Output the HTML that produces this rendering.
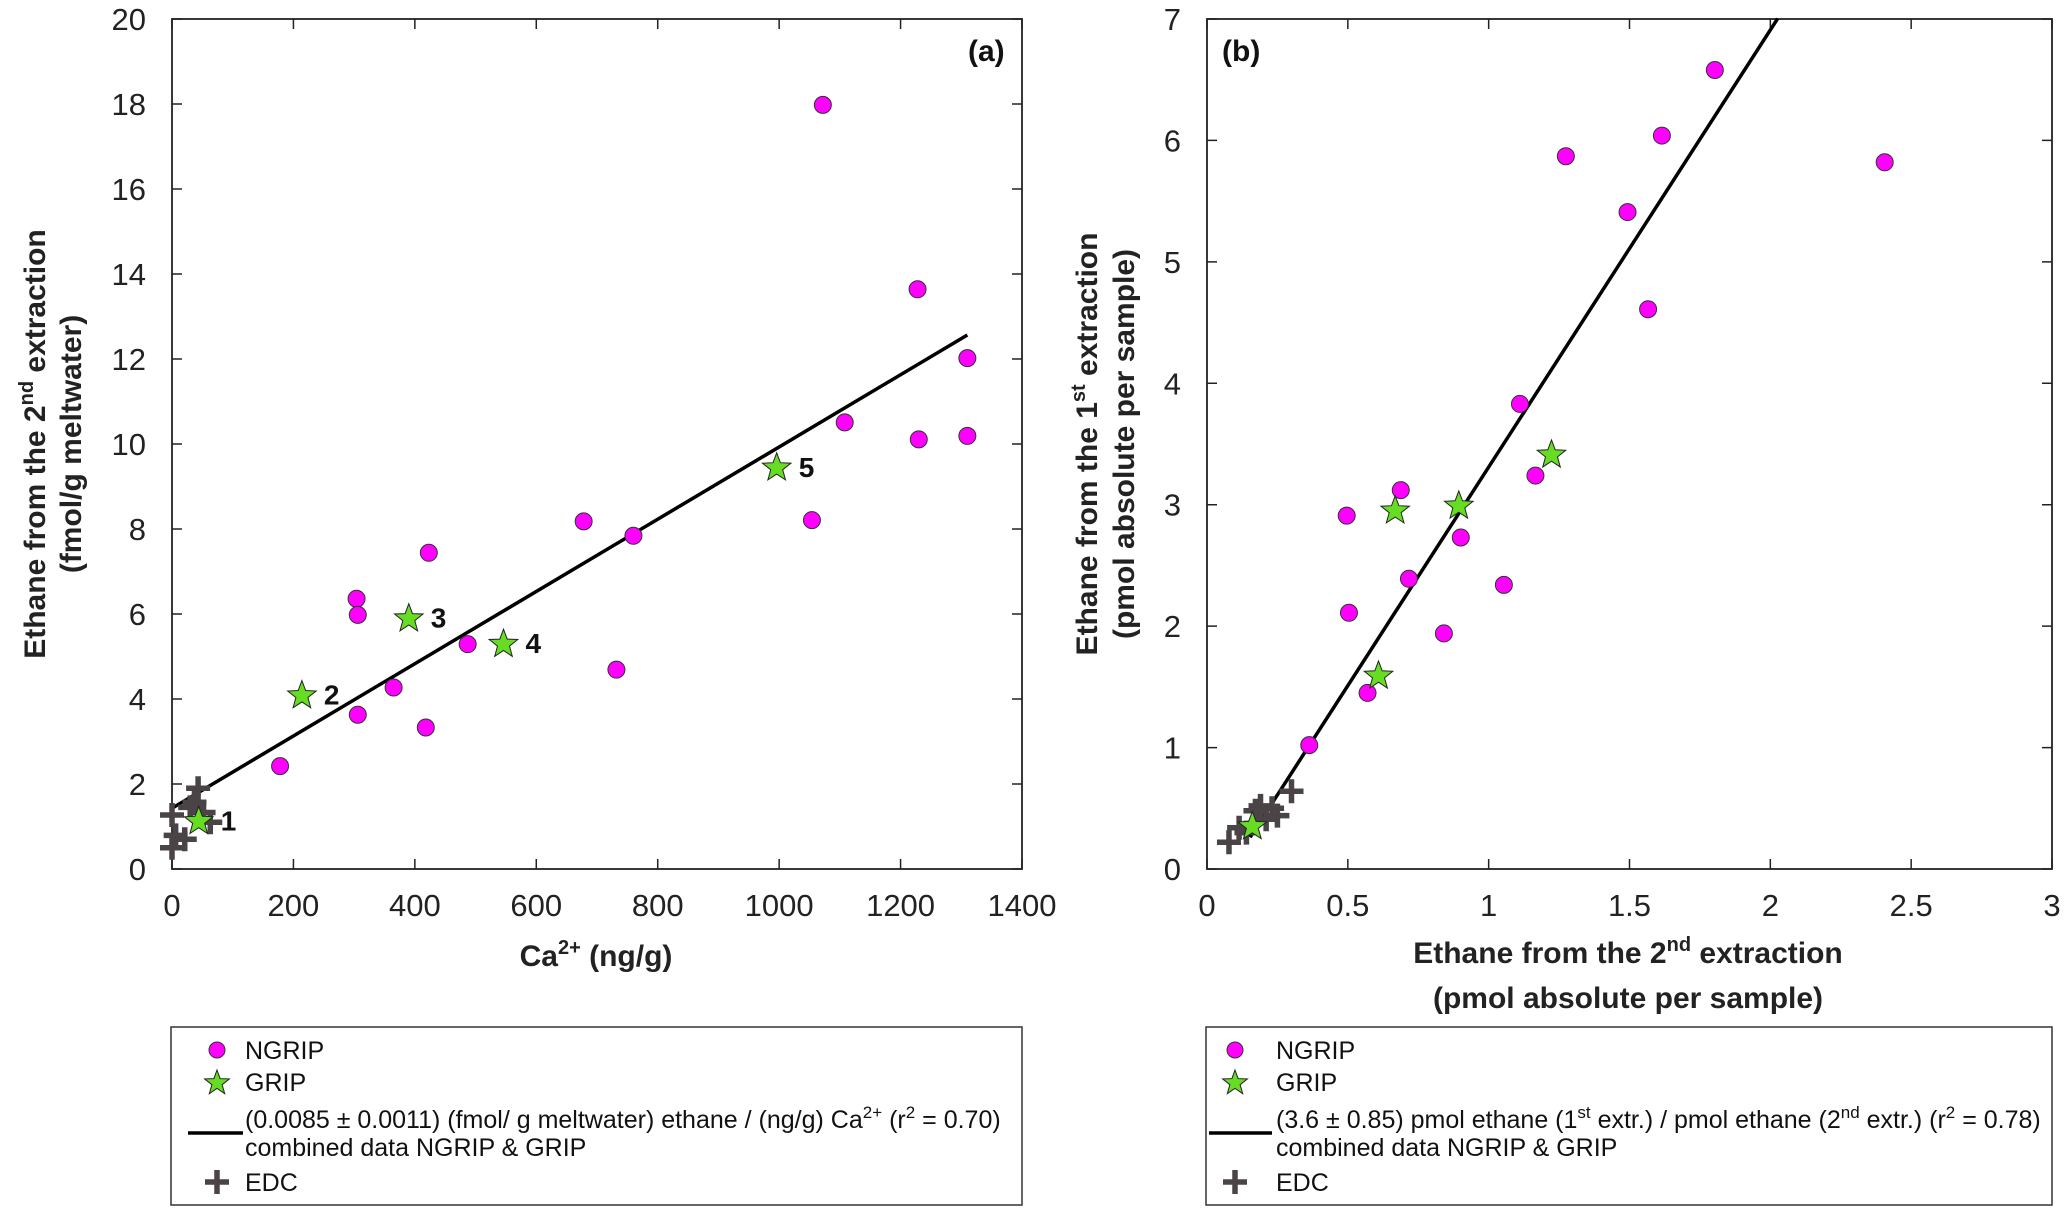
<!DOCTYPE html>
<html><head><meta charset="utf-8"><style>
html,body{margin:0;padding:0;background:#fff;}
svg{display:block;font-family:"Liberation Sans",Arial,sans-serif;}
</style></head><body>
<svg id="chart" width="2067" height="1210" viewBox="0 0 2067 1210" xmlns="http://www.w3.org/2000/svg"></svg>
<script>
// ---------- Panel (a) data ----------
const aNgripX = [1072,1228,1310,1108,1230,1310,1054,678,760,423,304,306,487,732,365,306,418,178];
const aNgripY = [17.98,13.64,12.02,10.51,10.11,10.19,8.21,8.18,7.84,7.44,6.36,5.98,5.29,4.69,4.27,3.63,3.33,2.42];
const aGripX = [44,214,390,546,996];
const aGripY = [1.12,4.08,5.89,5.29,9.44];
const aGripLabels = ["1","2","3","4","5"];
const aEdcX = [43,37,52,0,63,6,21,0,30];
const aEdcY = [1.9,1.57,1.33,1.27,1.1,0.79,0.7,0.5,1.45];
const aFitX = [0,1310];
const aFitSlope = 0.0085, aFitIntercept = 1.43;
const aXTicks = [0,200,400,600,800,1000,1200,1400];
const aYTicks = [0,2,4,6,8,10,12,14,16,18,20];
// ---------- Panel (b) data ----------
const bNgripX = [1.803,1.615,1.274,2.406,1.493,1.566,1.111,1.166,0.688,0.496,0.901,0.717,1.054,0.504,0.841,0.570,0.363];
const bNgripY = [6.58,6.04,5.87,5.82,5.41,4.61,3.83,3.24,3.12,2.91,2.73,2.39,2.34,2.11,1.94,1.45,1.02];
const bGripX = [0.161,0.609,0.668,0.894,1.223];
const bGripY = [0.35,1.59,2.95,2.99,3.41];
const bEdcX = [0.078,0.114,0.172,0.231,0.25,0.30,0.21,0.14,0.19];
const bEdcY = [0.22,0.34,0.48,0.50,0.44,0.64,0.41,0.30,0.52];
const bFitX = [0.153,2.026];
const bFitSlope = 3.6, bFitIntercept = -0.29;
const bXTicks = [0,0.5,1,1.5,2,2.5,3];
const bYTicks = [0,1,2,3,4,5,6,7];

const NS="http://www.w3.org/2000/svg";
const svg=document.getElementById('chart');
function el(tag,attrs,parent){const e=document.createElementNS(NS,tag);for(const k in attrs)e.setAttribute(k,attrs[k]);(parent||svg).appendChild(e);return e;}

function starPts(cx,cy,R){const r=R*0.42;let p=[];for(let i=0;i<10;i++){const a=-Math.PI/2+i*Math.PI/5;const rr=i%2?r:R;p.push((cx+rr*Math.cos(a)).toFixed(1)+','+(cy+rr*Math.sin(a)).toFixed(1));}return p.join(' ');}

function panel(o){
  const g=el('g',{});
  
  
  const sx=v=>o.x0+(v-o.xmin)/(o.xmax-o.xmin)*(o.x1-o.x0);
  const sy=v=>o.y0-(v-o.ymin)/(o.ymax-o.ymin)*(o.y0-o.y1);
  o.xt.forEach(t=>{const x=sx(t);
    const tk=el('path',{d:`M${x},${o.y0}v-10M${x},${o.y1}v10`,stroke:'#222','stroke-width':1.5},g);
    
    const tl=el('text',{x:x,y:o.y0+47,'font-size':31,'text-anchor':'middle',fill:'#222'},g);tl.textContent=String(t);
    });
  o.yt.forEach(t=>{const y=sy(t);
    const tk=el('path',{d:`M${o.x0},${y}h10M${o.x1},${y}h-10`,stroke:'#222','stroke-width':1.5},g);
    
    const tl=el('text',{x:o.x0-26,y:y+11,'font-size':31,'text-anchor':'end',fill:'#222'},g);tl.textContent=String(t);
    });
  const box=el('rect',{x:o.x0,y:o.y1,width:o.x1-o.x0,height:o.y0-o.y1,fill:'none',stroke:'#222','stroke-width':1.8},g);
  
  const fx0=o.fitX[0],fx1=o.fitX[1];
  const fl=el('line',{x1:sx(fx0),y1:sy(o.slope*fx0+o.icpt),x2:sx(fx1),y2:sy(o.slope*fx1+o.icpt),stroke:'#000','stroke-width':3.5},g);
  
  o.ex.forEach((v,i)=>{const x=sx(v),y=sy(o.ey[i]);
    const p=el('path',{d:`M${x-12},${y}h24M${x},${y-12}v24`,stroke:'#4a4446','stroke-width':5.5},g);
    });
  o.nx.forEach((v,i)=>{const c=el('circle',{cx:sx(v),cy:sy(o.ny[i]),r:8.5,fill:'#ff00ff',stroke:'#333','stroke-width':1},g);
    });
  o.gx.forEach((v,i)=>{const x=sx(v),y=sy(o.gy[i]);
    const s=el('polygon',{points:starPts(x,y,15),fill:'#66dd22',stroke:'#222','stroke-width':1},g);
    
    if(o.glab){const t=el('text',{x:x+22,y:y+9,'font-size':28,'font-weight':'bold',fill:'#111'},g);t.textContent=o.glab[i];
      }});
  const pl=el('text',{x:o.plx,y:61,'font-size':30,'font-weight':'bold',fill:'#111'},g);pl.textContent=o.pl;
  
}

panel({name:'panel-a',x0:172,x1:1022,y0:869,y1:19,xmin:0,xmax:1400,ymin:0,ymax:20,xt:aXTicks,yt:aYTicks,
  nx:aNgripX,ny:aNgripY,gx:aGripX,gy:aGripY,glab:aGripLabels,ex:aEdcX,ey:aEdcY,fitX:aFitX,slope:aFitSlope,icpt:aFitIntercept,pl:'(a)',plx:968});
panel({name:'panel-b',x0:1207,x1:2052,y0:869,y1:19,xmin:0,xmax:3,ymin:0,ymax:7,xt:bXTicks,yt:bYTicks,
  nx:bNgripX,ny:bNgripY,gx:bGripX,gy:bGripY,glab:null,ex:bEdcX,ey:bEdcY,fitX:bFitX,slope:bFitSlope,icpt:bFitIntercept,pl:'(b)',plx:1222});
</script>
<svg style="position:absolute;left:0;top:0" width="2067" height="1210" xmlns="http://www.w3.org/2000/svg" font-family="Liberation Sans, Arial, sans-serif">
  <text x="596" y="966" font-size="30" font-weight="bold" text-anchor="middle" fill="#222">Ca<tspan font-size="20" dy="-12">2+</tspan><tspan dy="12"> (ng/g)</tspan></text>
  <g transform="translate(45,444) rotate(-90)">
    <text x="0" y="0" font-size="30" font-weight="bold" text-anchor="middle" fill="#222">Ethane from the 2<tspan font-size="20" dy="-12">nd</tspan><tspan dy="12"> extraction</tspan></text>
    <text x="0" y="36" font-size="30" font-weight="bold" text-anchor="middle" fill="#222">(fmol/g meltwater)</text>
  </g>
  <text x="1628" y="963" font-size="30" font-weight="bold" text-anchor="middle" fill="#222">Ethane from the 2<tspan font-size="20" dy="-12">nd</tspan><tspan dy="12"> extraction</tspan></text>
  <text x="1628" y="1008" font-size="30" font-weight="bold" text-anchor="middle" fill="#222">(pmol absolute per sample)</text>
  <g transform="translate(1097,444) rotate(-90)">
    <text x="0" y="0" font-size="30" font-weight="bold" text-anchor="middle" fill="#222">Ethane from the 1<tspan font-size="20" dy="-12">st</tspan><tspan dy="12"> extraction</tspan></text>
    <text x="0" y="37" font-size="30" font-weight="bold" text-anchor="middle" fill="#222">(pmol absolute per sample)</text>
  </g>

  <g font-size="25" fill="#111">
    <rect x="171" y="1027" width="851" height="178" fill="#fff" stroke="#333" stroke-width="1.5"/>
    <circle cx="217" cy="1050" r="8" fill="#ff00ff" stroke="#333"/>
    <text x="245" y="1059">NGRIP</text>
    <polygon points="217,1070 220.1,1078.6 229.4,1078.9 222.1,1084.7 224.7,1093.7 217,1088.3 209.3,1093.7 211.9,1084.7 204.6,1078.9 213.9,1078.6" fill="#66dd22" stroke="#222"/>
    <text x="245" y="1091">GRIP</text>
    <line x1="188" y1="1133" x2="243" y2="1133" stroke="#000" stroke-width="3.5"/>
    <text x="245" y="1128">(0.0085 ± 0.0011) (fmol/ g meltwater) ethane / (ng/g) Ca<tspan font-size="17" dy="-10">2+</tspan><tspan dy="10"> (r</tspan><tspan font-size="17" dy="-10">2</tspan><tspan dy="10"> = 0.70)</tspan></text>
    <text x="245" y="1156">combined data NGRIP &amp; GRIP</text>
    <path d="M205,1182h24M217,1170v24" stroke="#4a4446" stroke-width="5.5"/>
    <text x="245" y="1191">EDC</text>
  </g>

  <g font-size="25" fill="#111">
    <rect x="1206" y="1027" width="846" height="178" fill="#fff" stroke="#333" stroke-width="1.5"/>
    <circle cx="1235" cy="1050" r="8" fill="#ff00ff" stroke="#333"/>
    <text x="1276" y="1059">NGRIP</text>
    <polygon points="1235,1070 1238.1,1078.6 1247.4,1078.9 1240.1,1084.7 1242.7,1093.7 1235,1088.3 1227.3,1093.7 1229.9,1084.7 1222.6,1078.9 1231.9,1078.6" fill="#66dd22" stroke="#222"/>
    <text x="1276" y="1091">GRIP</text>
    <line x1="1209" y1="1133" x2="1272" y2="1133" stroke="#000" stroke-width="3.5"/>
    <text x="1276" y="1128">(3.6 ± 0.85) pmol ethane (1<tspan font-size="17" dy="-10">st</tspan><tspan dy="10"> extr.) / pmol ethane  (2</tspan><tspan font-size="17" dy="-10">nd</tspan><tspan dy="10"> extr.) (r</tspan><tspan font-size="17" dy="-10">2</tspan><tspan dy="10"> = 0.78)</tspan></text>
    <text x="1276" y="1156">combined data NGRIP &amp; GRIP</text>
    <path d="M1223,1182h24M1235,1170v24" stroke="#4a4446" stroke-width="5.5"/>
    <text x="1276" y="1191">EDC</text>
  </g>
</svg>
</body></html>
